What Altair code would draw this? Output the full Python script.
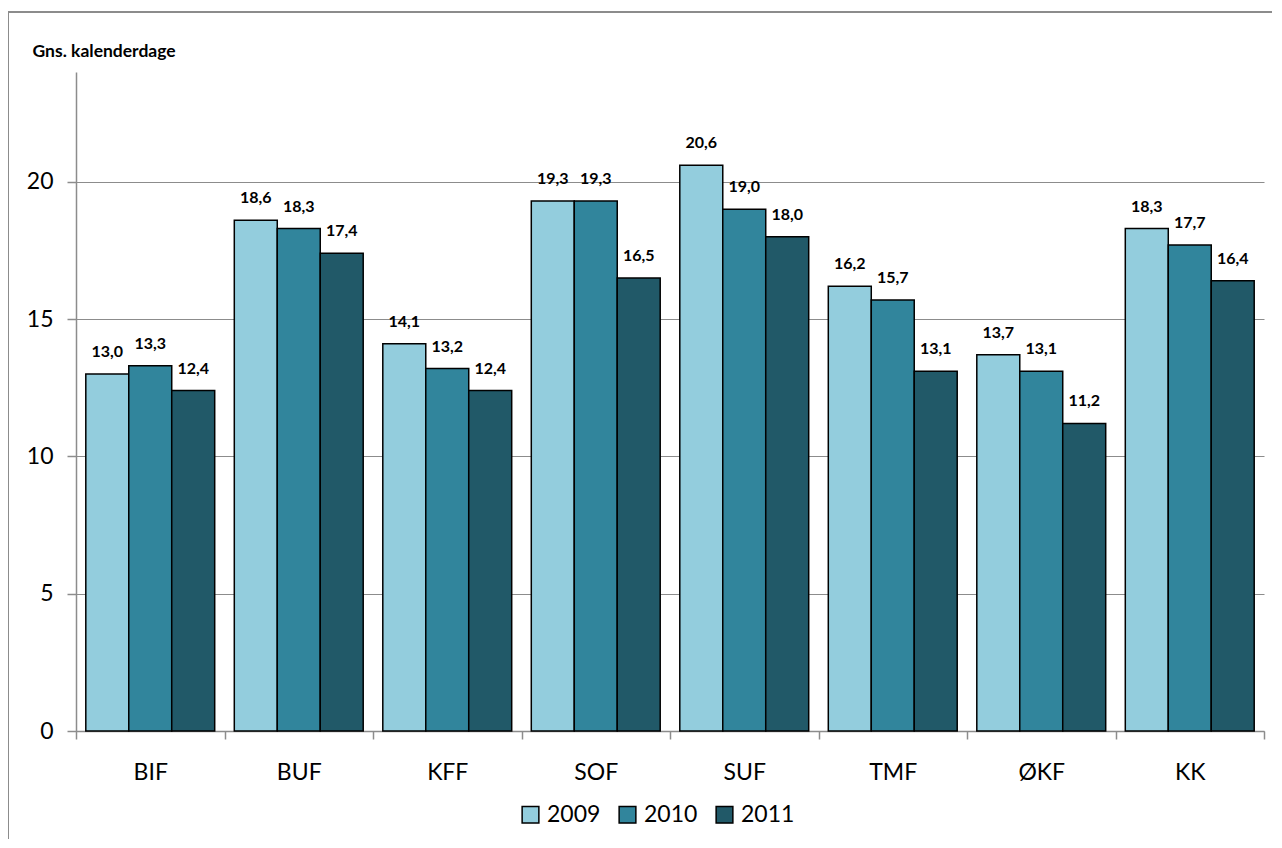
import altair as alt
import pandas as pd

categories = ["BIF", "BUF", "KFF", "SOF", "SUF", "TMF", "ØKF", "KK"]
years = ["2009", "2010", "2011"]
v2009 = [13.0, 18.6, 14.1, 19.3, 20.6, 16.2, 13.7, 18.3]
v2010 = [13.3, 18.3, 13.2, 19.3, 19.0, 15.7, 13.1, 17.7]
v2011 = [12.4, 17.4, 12.4, 16.5, 18.0, 13.1, 11.2, 16.4]
colors = ["#93CDDD", "#31859C", "#215968"]
y_ticks = [0, 5, 10, 15, 20]

rows = []
for i, c in enumerate(categories):
    for y, vals in zip(years, [v2009, v2010, v2011]):
        rows.append({"cat": c, "year": y, "value": vals[i]})
df = pd.DataFrame(rows)

FONT = "Lato"
GRAY = "#8C8C8C"

x = alt.X(
    "cat:N",
    sort=categories,
    scale=alt.Scale(paddingInner=0, paddingOuter=0),
    axis=alt.Axis(
        title=None,
        labelAngle=0,
        labelFontSize=23,
        labelColor="#000000",
        labelFont=FONT,
        labelPadding=22,
        tickBand="extent",
        tickSize=8,
        tickColor=GRAY,
        domainColor=GRAY,
        tickWidth=1.5,
        domainWidth=1.5,
    ),
)
xo = alt.XOffset("year:N", sort=years, scale=alt.Scale(paddingInner=0, paddingOuter=0.228))
y = alt.Y(
    "value:Q",
    scale=alt.Scale(domain=[0, 24], nice=False),
    axis=alt.Axis(
        title="Gns. kalenderdage",
        values=y_ticks,
        titleAngle=0,
        titleAlign="left",
        titleBaseline="alphabetic",
        titleX=-44,
        titleY=-16,
        titleFont=FONT,
        titleFontSize=17.5,
        titleFontWeight="bold",
        titleColor="#000000",
        labelFontSize=23,
        labelFont=FONT,
        labelColor="#000000",
        labelPadding=14,
        tickSize=9,
        tickColor=GRAY,
        domainColor=GRAY,
        tickWidth=1.5,
        domainWidth=1.5,
        grid=True,
        gridColor=GRAY,
        gridWidth=1.2,
    ),
)

bars = alt.Chart(df).mark_bar(stroke="#000000", strokeWidth=1.5).encode(
    x=x,
    xOffset=xo,
    y=y,
    color=alt.Color(
        "year:N",
        sort=years,
        scale=alt.Scale(domain=years, range=colors),
        legend=alt.Legend(
            title=None,
            orient="none",
            legendX=443,
            legendY=731,
            direction="horizontal",
            symbolType="square",
            symbolSize=280,
            symbolStrokeColor="#000000",
            symbolStrokeWidth=1.5,
            symbolOpacity=1,
            labelFontSize=23,
            labelFont=FONT,
            labelColor="#000000",
            labelOffset=5,
            columnPadding=15,
        ),
    ),
)

labels = alt.Chart(df).transform_calculate(
    label="replace(format(datum.value, '.1f'), '.', ',')"
).mark_text(
    baseline="alphabetic", dy=-17, fontSize=16, fontWeight="bold", font=FONT, color="#000000"
).encode(x=x, xOffset=xo, y=y, text="label:N")

frame = alt.Chart(alt.Data(values=[{"a": 1}])).mark_rect(
    fillOpacity=0, stroke=GRAY, strokeWidth=2
).encode(
    x=alt.value(-68), x2=alt.value(1300), y=alt.value(-60), y2=alt.value(900)
)

chart = alt.layer(frame, bars, labels).properties(
    width=1188,
    height=659,
    autosize=alt.AutoSizeParams(type="none"),
    padding={"left": 68, "top": 64, "right": 8, "bottom": 108},
    background="#FFFFFF",
).configure_view(stroke=None)

chart.save("out.html", embed_options={"renderer": "svg", "actions": False})
